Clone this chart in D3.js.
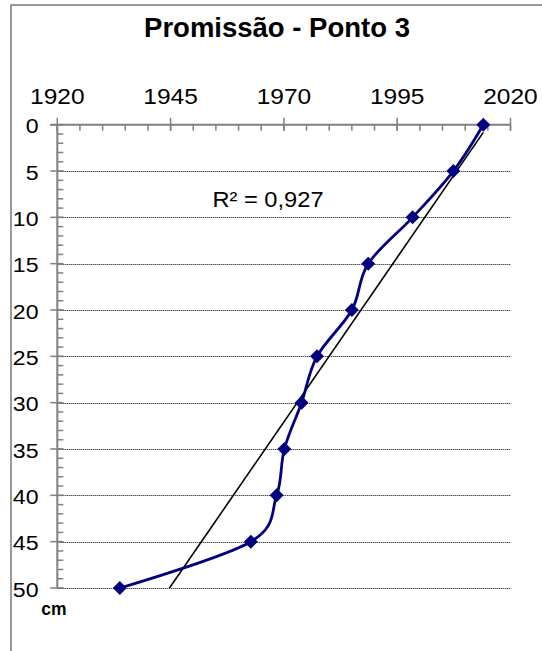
<!DOCTYPE html>
<html>
<head>
<meta charset="utf-8">
<script src="https://cdn.jsdelivr.net/npm/d3@7"></script>
<style>
  html, body { margin: 0; padding: 0; background: #fff; }
  svg { display: block; font-family: "Liberation Sans", Arial, sans-serif; }
</style>
</head>
<body>
<svg id="chart" width="542" height="651"></svg>
<script>
// ---- data ----
const title = "Promissão - Ponto 3";
const years = [2014.0, 2007.4, 1998.4, 1988.6, 1985.0, 1977.3, 1973.9, 1970.1, 1968.4, 1962.7, 1933.8];
const depths = [0, 5, 10, 15, 20, 25, 30, 35, 40, 45, 50];
const xTicks = [1920, 1945, 1970, 1995, 2020];
const yTicks = [0, 5, 10, 15, 20, 25, 30, 35, 40, 45, 50];
const r2Label = "R² = 0,927";
const yUnit = "cm";

// ---- layout ----
const svg = d3.select("#chart");
const pLeft = 57.3, pRight = 510.5, pTop = 124.7, pBottom = 588;
const x = d3.scaleLinear().domain([1920, 2020]).range([pLeft, pRight]);
const y = d3.scaleLinear().domain([0, 50]).range([pTop, pBottom]);
const axisColor = "#808080";

// outer border (left + top visible)
svg.append("path")
  .attr("d", `M11,651 L11,5 L542,5`)
  .attr("fill", "none").attr("stroke", "#7a7a7a").attr("stroke-width", 1.5);

// title
svg.append("text")
  .attr("x", 277).attr("y", 37)
  .attr("text-anchor", "middle")
  .attr("font-weight", "bold").attr("font-size", 27.5)
  .text(title);

// gridlines
svg.append("g").selectAll("line")
  .data(yTicks.filter(d => d > 0))
  .join("line")
  .attr("x1", pLeft).attr("x2", pRight)
  .attr("y1", d => Math.round(y(d)) + 0.5).attr("y2", d => Math.round(y(d)) + 0.5)
  .attr("stroke", "#000").attr("stroke-width", 1)
  .attr("stroke-dasharray", "1,1");

// X axis (top) minor ticks
const xMinor = d3.range(1920, 2021, 5);
svg.append("g").selectAll("line").data(xMinor).join("line")
  .attr("x1", d => x(d)).attr("x2", d => x(d))
  .attr("y1", pTop).attr("y2", pTop + 6)
  .attr("stroke", axisColor).attr("stroke-width", 1.5);
svg.append("g").selectAll("line").data(xTicks).join("line")
  .attr("x1", d => x(d)).attr("x2", d => x(d))
  .attr("y1", pTop - 7).attr("y2", pTop + 6)
  .attr("stroke", axisColor).attr("stroke-width", 1.5);
svg.append("line")
  .attr("x1", pLeft - 7).attr("x2", pRight).attr("y1", pTop).attr("y2", pTop)
  .attr("stroke", axisColor).attr("stroke-width", 2);
svg.append("g").selectAll("text").data(xTicks).join("text")
  .attr("transform", d => `translate(${x(d)},104.3) scale(1.14,1)`)
  .attr("text-anchor", "middle").attr("font-size", 21.5)
  .text(d => d);

// Y axis minor ticks
const yMinor = d3.range(0, 51, 1);
svg.append("g").selectAll("line").data(yMinor).join("line")
  .attr("x1", pLeft).attr("x2", pLeft + 6)
  .attr("y1", d => y(d)).attr("y2", d => y(d))
  .attr("stroke", axisColor).attr("stroke-width", 1.5);
svg.append("g").selectAll("line").data(yTicks).join("line")
  .attr("x1", pLeft - 7).attr("x2", pLeft + 6)
  .attr("y1", d => y(d)).attr("y2", d => y(d))
  .attr("stroke", axisColor).attr("stroke-width", 1.5);
svg.append("line")
  .attr("x1", pLeft).attr("x2", pLeft).attr("y1", pTop).attr("y2", pBottom)
  .attr("stroke", axisColor).attr("stroke-width", 2);
svg.append("g").selectAll("text").data(yTicks).join("text")
  .attr("transform", d => `translate(38.5,${y(d) + 8.6}) scale(1.1,1)`)
  .attr("text-anchor", "end").attr("font-size", 21)
  .text(d => d);

// unit label
svg.append("text")
  .attr("x", 54).attr("y", 614.5)
  .attr("text-anchor", "middle").attr("font-weight", "bold").attr("font-size", 17.5)
  .text(yUnit);

// clip to plot area
svg.append("defs").append("clipPath").attr("id", "plotclip")
  .append("rect").attr("x", pLeft).attr("y", pTop - 10)
  .attr("width", pRight - pLeft).attr("height", pBottom - pTop + 10);

// linear trendline (depth on year)
const n = years.length;
const mx = d3.mean(years), my = d3.mean(depths);
let sxy = 0, sxx = 0;
for (let i = 0; i < n; i++) { sxy += (years[i] - mx) * (depths[i] - my); sxx += (years[i] - mx) ** 2; }
const b = sxy / sxx, a = my - b * mx;
const xMin = d3.min(years), xMax = d3.max(years);
svg.append("line")
  .attr("clip-path", "url(#plotclip)")
  .attr("x1", x(xMin)).attr("y1", y(a + b * xMin))
  .attr("x2", x(xMax)).attr("y2", y(a + b * xMax))
  .attr("stroke", "#000").attr("stroke-width", 1.6);

// smoothed data line
const pts = years.map((yr, i) => [yr, depths[i]]);
svg.append("path")
  .datum(pts)
  .attr("fill", "none").attr("stroke", "#000080").attr("stroke-width", 2.8)
  .attr("d", d3.line().x(d => x(d[0])).y(d => y(d[1])).curve(d3.curveCardinal.tension(0)));

// markers
svg.append("g").selectAll("path").data(pts).join("path")
  .attr("transform", d => `translate(${x(d[0])},${y(d[1])})`)
  .attr("d", "M0,-7 L7,0 L0,7 L-7,0 Z")
  .attr("fill", "#000080");

// R² label
svg.append("text")
  .attr("transform", "translate(268,206.7) scale(1.1,1)")
  .attr("text-anchor", "middle").attr("font-size", 21.5)
  .text(r2Label);
</script>
</body>
</html>
